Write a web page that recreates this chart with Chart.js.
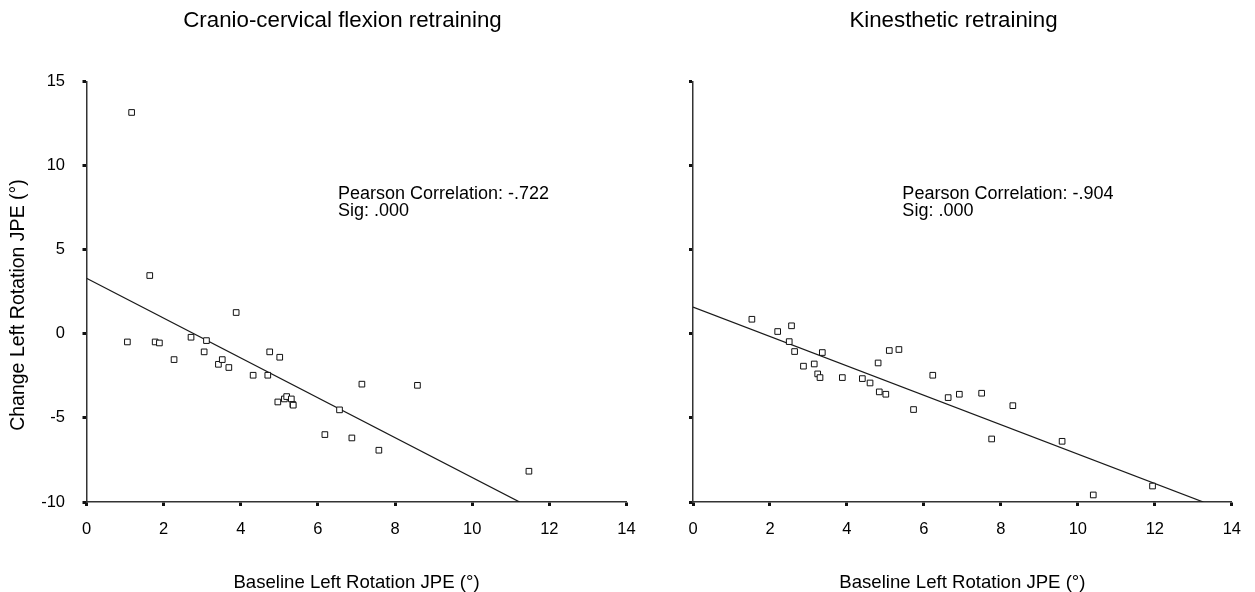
<!DOCTYPE html>
<html>
<head>
<meta charset="utf-8">
<script src="https://cdn.jsdelivr.net/npm/chart.js@4.4.1/dist/chart.umd.min.js"></script>
<style>
html,body{margin:0;padding:0;background:#fff;width:1255px;height:592px;overflow:hidden;}
canvas{position:absolute;top:0;}
#c1{left:0;}
#c2{left:652px;}
</style>
</head>
<body>
<canvas id="c1" width="685" height="592"></canvas>
<canvas id="c2" width="603" height="592"></canvas>
<script>
// ---- text ----
const leftTitle = 'Cranio-cervical flexion retraining';
const rightTitle = 'Kinesthetic retraining';
const xAxisTitle = 'Baseline Left Rotation JPE (°)';
const yAxisTitle = 'Change Left Rotation JPE (°)';
const ccfStats = ['Pearson Correlation: -.722', 'Sig: .000'];
const kinStats = ['Pearson Correlation: -.904', 'Sig: .000'];

// ---- tick values ----
const xTicks = [0, 2, 4, 6, 8, 10, 12, 14];
const yTicks = [-10, -5, 0, 5, 10, 15];

// ---- Cranio-cervical flexion retraining ----
const ccfBaseline = [1.17, 1.64, 3.88, 1.06, 1.78, 1.89, 2.71, 3.11, 3.05, 2.27, 3.42, 3.52, 3.69, 4.32, 4.70, 4.75, 5.01, 4.96, 5.13, 5.19, 5.31, 5.35, 5.36, 6.18, 6.56, 6.88, 7.14, 7.58, 8.58, 11.47];
const ccfChange   = [13.17, 3.47, 1.27, -0.48, -0.48, -0.54, -0.20, -0.40, -1.07, -1.53, -1.81, -1.53, -2.00, -2.46, -2.46, -1.07, -1.39, -4.05, -3.87, -3.73, -3.87, -4.20, -4.24, -5.99, -4.52, -6.19, -2.99, -6.92, -3.06, -8.17];
const ccfFitX = [0, 11.23];
const ccfFitY = [3.31, -10];

// ---- Kinesthetic retraining ----
const kinBaseline = [1.53, 2.20, 2.56, 2.50, 2.64, 3.36, 2.87, 3.15, 3.24, 3.30, 3.88, 4.40, 4.60, 4.81, 4.84, 5.01, 5.10, 5.35, 5.73, 6.23, 6.63, 6.92, 7.50, 8.31, 7.76, 9.59, 10.40, 11.94];
const kinChange   = [0.87, 0.14, 0.48, -0.46, -1.05, -1.11, -1.92, -1.79, -2.38, -2.60, -2.60, -2.66, -2.92, -1.73, -3.45, -3.59, -0.99, -0.93, -4.50, -2.46, -3.79, -3.59, -3.53, -4.27, -6.25, -6.39, -9.58, -9.05];
const kinFitX = [0, 13.26];
const kinFitY = [1.59, -10];

const FONT = '"Liberation Sans", Arial, Helvetica, sans-serif';

const zip = (xs, ys) => xs.map((v, i) => ({x: v, y: ys[i]}));

const textPlugin = {
  id: 'statsText',
  afterDatasetsDraw(chart, args, opts) {
    const ctx = chart.ctx;
    const xs = chart.scales.x, ys = chart.scales.y;
    ctx.save();
    ctx.fillStyle = '#000';
    // chart title
    ctx.font = opts.titleSize + 'px ' + FONT;
    ctx.textAlign = 'center';
    ctx.textBaseline = 'middle';
    ctx.fillText(opts.title, opts.titlePos[0], opts.titlePos[1]);
    // statistics annotation
    ctx.font = opts.size + 'px ' + FONT;
    ctx.textAlign = 'left';
    const px = xs.getPixelForValue(opts.at[0]);
    const py = ys.getPixelForValue(opts.at[1]);
    opts.lines.forEach((t, i) => ctx.fillText(t, px, py + i * opts.gap));
    // rotated y axis title
    if (opts.yTitle) {
      ctx.translate(opts.yTitlePos[0], opts.yTitlePos[1]);
      ctx.rotate(-Math.PI / 2);
      ctx.textAlign = 'center';
      ctx.font = opts.yTitleSize + 'px ' + FONT;
      ctx.fillText(opts.yTitle, 0, 0);
    }
    ctx.restore();
  }
};

function makeChart(id, title, xs, ys, fx, fy, stats, cfg) {
  return new Chart(document.getElementById(id), {
    type: 'scatter',
    data: {
      datasets: [
        {
          data: zip(xs, ys),
          pointStyle: 'rect',
          pointRadius: 4,
          borderWidth: 1,
          borderColor: '#111',
          backgroundColor: '#fff',
          showLine: false
        },
        {
          data: zip(fx, fy),
          showLine: true,
          pointRadius: 0,
          borderColor: '#1a1a1a',
          borderWidth: 1.3,
          fill: false
        }
      ]
    },
    options: {
      responsive: false,
      animation: false,
      events: [],
      layout: {padding: {left: 0, right: cfg.padRight, top: 81.7, bottom: 0}},
      plugins: {
        legend: {display: false},
        tooltip: {enabled: false},
        title: {display: false},
        statsText: {
          title: title,
          titlePos: cfg.titlePos,
          titleSize: 22.3,
          lines: stats,
          at: cfg.statsAt,
          size: 18,
          gap: 17,
          yTitle: cfg.yTitle,
          yTitlePos: [19, 305],
          yTitleSize: 19.5
        }
      },
      scales: {
        x: {
          type: 'linear',
          min: 0, max: 14,
          afterBuildTicks: s => { s.ticks = xTicks.map(v => ({value: v})); },
          afterFit: s => { s.height = 90; },
          grid: {drawOnChartArea: false, drawTicks: true, tickLength: 4, tickWidth: 3, color: '#111'},
          border: {display: true, color: '#333', width: 1.5},
          ticks: {padding: 14, color: '#000', font: {family: FONT, size: 16.5}, maxRotation: 0, autoSkip: false},
          title: {display: true, text: xAxisTitle, color: '#000', font: {family: FONT, size: 18.6, lineHeight: 1}, padding: {top: 0, bottom: 0}}
        },
        y: {
          type: 'linear',
          min: -10, max: 15,
          afterBuildTicks: s => { s.ticks = yTicks.map(v => ({value: v})); },
          afterFit: s => { s.width = cfg.yWidth; },
          grid: {drawOnChartArea: false, drawTicks: true, tickLength: 4, tickWidth: 3, color: '#111'},
          border: {display: true, color: '#333', width: 1.5},
          ticks: {display: cfg.yLabels, padding: 17.5, color: '#000', font: {family: FONT, size: 16.5}},
          title: {display: false}
        }
      }
    },
    plugins: [textPlugin]
  });
}

makeChart('c1', leftTitle, ccfBaseline, ccfChange, ccfFitX, ccfFitY, ccfStats,
  {padRight: 58.5, yWidth: 86.5, yLabels: true, statsAt: [6.52, 8.33], yTitle: yAxisTitle, titlePos: [342.5, 20.5]});
makeChart('c2', rightTitle, kinBaseline, kinChange, kinFitX, kinFitY, kinStats,
  {padRight: 22, yWidth: 41, yLabels: false, statsAt: [5.44, 8.33], yTitle: null, titlePos: [301.5, 20.5]});
</script>
</body>
</html>
